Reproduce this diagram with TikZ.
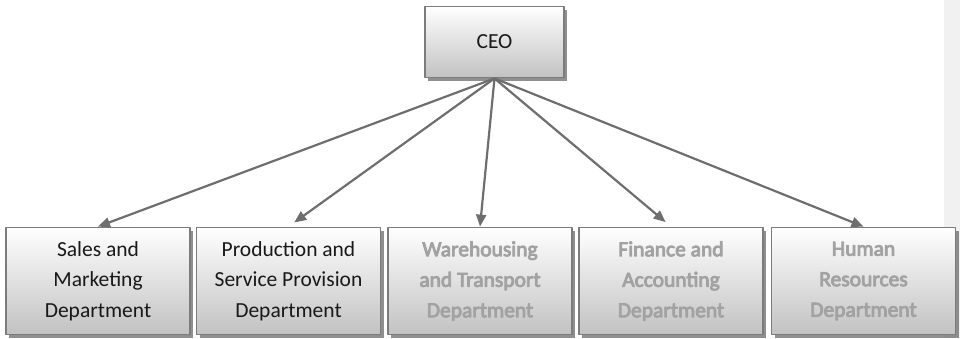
\documentclass[tikz,border=0pt]{standalone}
\usepackage{fontspec}
\setmainfont{Carlito}
\newfontfamily\borrosa[FakeBold=4]{Carlito}
\usetikzlibrary{arrows.meta,shadows}
\definecolor{borde}{HTML}{7C7C7C}
\definecolor{trazo}{HTML}{6E6E6E}
\definecolor{franja}{HTML}{F1F1F1}
\definecolor{gris}{HTML}{A2A2A2}

\begin{document}
\begin{tikzpicture}[x=1pt, y=-1pt, line join=round,
    caja/.style={draw=borde, line width=1.8pt, top color=white, bottom color=black!24,
      drop shadow={shadow xshift=3pt, shadow yshift=-3pt, fill=black!55, opacity=0.8},
      align=center, font=\fontsize{21.5}{30.5}\selectfont, text=black!90},
    dpto/.style={caja, minimum width=184pt, minimum height=107pt, inner sep=0pt},
    borroso/.style={dpto, text=gris, font=\borrosa\fontsize{21.5}{30.5}\selectfont},
    flecha/.style={draw=trazo, line width=2.2pt, -{Triangle[length=12pt,width=10pt]}}]
  \useasboundingbox (0,0) rectangle (960,338);
  % la franja gris del borde
  \fill[franja] (944,0) rectangle (960,338);
  % el jefe
  \node[caja, minimum width=139pt, minimum height=71pt] (ceo) at (494.5,42) {CEO};
  % los departamentos
  \node[dpto] (ventas) at (98,281) {Sales and\\Marketing\\Department};
  \node[dpto] (produccion) at (288.5,281) {Production and\\Service Provision\\Department};
  \node[borroso] (almacen) at (480,281) {Warehousing\\and Transport\\Department};
  \node[borroso] (finanzas) at (671,281) {Finance and\\Accounting\\Department};
  \node[borroso] (personal) at (863.5,281) {Human\\Resources\\Department};
  % las flechas
  \foreach \d/\s in {ventas/0, produccion/7, almacen/0, finanzas/7, personal/0}
    \draw[flecha, shorten >=\s pt] (ceo.south) -- (\d.north);
\end{tikzpicture}
\end{document}
